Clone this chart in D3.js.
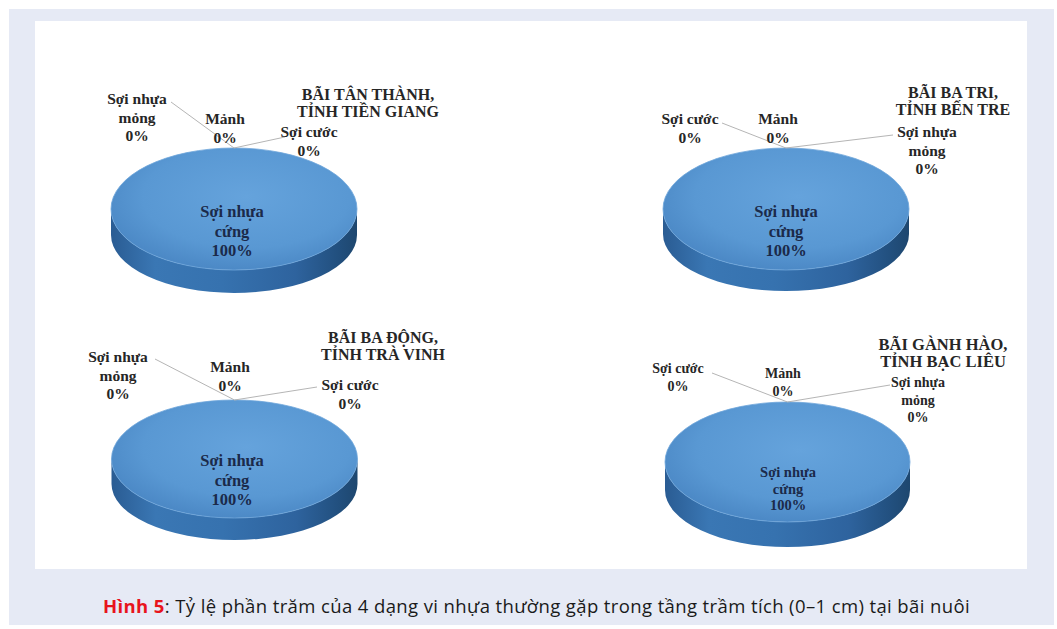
<!DOCTYPE html>
<html lang="vi">
<head>
<meta charset="utf-8">
<script src="https://cdn.jsdelivr.net/npm/d3@7"></script>
<style>
  html, body { margin: 0; padding: 0; background: #ffffff; }
  svg { display: block; }
</style>
</head>
<body>
<svg id="fig" width="1057" height="629"></svg>
<script>
// Plastic type categories (same order in every site)
const categories = ["Sợi nhựa cứng", "Sợi nhựa mỏng", "Mảnh", "Sợi cước"];

// Percentage share of each category, per site
const valuesTanThanh = [100, 0, 0, 0];
const valuesBaTri = [100, 0, 0, 0];
const valuesBaDong = [100, 0, 0, 0];
const valuesGanhHao = [100, 0, 0, 0];

// Site titles (two lines each)
const titleTanThanh = ["BÃI TÂN THÀNH,", "TỈNH TIỀN GIANG"];
const titleBaTri = ["BÃI BA TRI,", "TỈNH BẾN TRE"];
const titleBaDong = ["BÃI BA ĐỘNG,", "TỈNH TRÀ VINH"];
const titleGanhHao = ["BÃI GÀNH HÀO,", "TỈNH BẠC LIÊU"];

// How each category name wraps in the data labels
const labelLines = {
  "Sợi nhựa cứng": ["Sợi nhựa", "cứng"],
  "Sợi nhựa mỏng": ["Sợi nhựa", "mỏng"],
  "Mảnh": ["Mảnh"],
  "Sợi cước": ["Sợi cước"]
};

const captionBold = "Hình 5";
const captionText = ": Tỷ lệ phần trăm của 4 dạng vi nhựa thường gặp trong tầng trầm tích (0–1 cm) tại bãi nuôi";

// Layout for each panel: ellipse geometry, label anchors, font sizes
const panels = [
  {
    values: valuesTanThanh, title: titleTanThanh,
    cx: 234, cy: 209, rx: 123, ry: 61, depth: 26, ryBottom: 58,
    titlePos: [368, 100], titleSize: 16,
    labels: {
      "Sợi nhựa cứng": { x: 232, y: 217, size: 16.5 },
      "Sợi nhựa mỏng": { x: 137, y: 104, size: 15.5, from: [171, 102] },
      "Mảnh": { x: 225, y: 124, size: 15.5 },
      "Sợi cước": { x: 309, y: 137, size: 15.5, from: [285, 137] }
    }
  },
  {
    values: valuesBaTri, title: titleBaTri,
    cx: 786, cy: 209, rx: 123, ry: 61, depth: 25, ryBottom: 57,
    titlePos: [953, 98], titleSize: 16,
    labels: {
      "Sợi nhựa cứng": { x: 786, y: 217, size: 16.5 },
      "Sợi nhựa mỏng": { x: 927, y: 137, size: 15.5, from: [893, 135] },
      "Mảnh": { x: 778, y: 124, size: 15.5 },
      "Sợi cước": { x: 690, y: 124, size: 15.5, from: [722, 123] }
    }
  },
  {
    values: valuesBaDong, title: titleBaDong,
    cx: 234.5, cy: 459, rx: 123, ry: 59, depth: 25, ryBottom: 56,
    titlePos: [383, 343], titleSize: 16,
    labels: {
      "Sợi nhựa cứng": { x: 232, y: 466, size: 16.5 },
      "Sợi nhựa mỏng": { x: 118, y: 362, size: 15.5, from: [155, 359] },
      "Mảnh": { x: 230, y: 372, size: 15.5 },
      "Sợi cước": { x: 350, y: 390, size: 15.5, from: [317, 387] }
    }
  },
  {
    values: valuesGanhHao, title: titleGanhHao,
    cx: 787.5, cy: 462, rx: 122.5, ry: 60, depth: 28, ryBottom: 57,
    titlePos: [943, 350], titleSize: 16.5,
    labels: {
      "Sợi nhựa cứng": { x: 788, y: 477, size: 14.5, lh: 16.5 },
      "Sợi nhựa mỏng": { x: 918, y: 387, size: 14, lh: 17.5, from: [890, 385] },
      "Mảnh": { x: 783, y: 378, size: 14, lh: 17.5 },
      "Sợi cước": { x: 678, y: 373, size: 14, lh: 17.5, from: [712, 373] }
    }
  }
];

const svg = d3.select("#fig");

// Page background and white figure panel
svg.append("rect").attr("x", 0).attr("y", 0).attr("width", 1057).attr("height", 629).attr("fill", "#ffffff");
svg.append("rect").attr("x", 9).attr("y", 9).attr("width", 1045).attr("height", 616).attr("fill", "#e6eaf5");
svg.append("rect").attr("x", 35).attr("y", 21).attr("width", 992).attr("height", 548).attr("fill", "#ffffff");

// Gradients for the 3D pie faces
const defs = svg.append("defs");
const topGrad = defs.append("radialGradient").attr("id", "topFace")
  .attr("cx", "55%").attr("cy", "40%").attr("r", "60%");
topGrad.append("stop").attr("offset", "0%").attr("stop-color", "#65a3dc");
topGrad.append("stop").attr("offset", "70%").attr("stop-color", "#5998d3");
topGrad.append("stop").attr("offset", "100%").attr("stop-color", "#4c89c6");

const sideGrad = defs.append("linearGradient").attr("id", "sideFace")
  .attr("x1", "0%").attr("x2", "100%").attr("y1", "0%").attr("y2", "0%");
[["0%", "#2a5c93"], ["18%", "#3a77b4"], ["45%", "#3672af"], ["75%", "#2e639e"], ["92%", "#22507f"], ["100%", "#1e476f"]]
  .forEach(([o, c]) => sideGrad.append("stop").attr("offset", o).attr("stop-color", c));

const pie = d3.pie().sort(null).value(d => d);

// Point on an ellipse at a d3 pie angle (0 = 12 o'clock, clockwise)
function ellPoint(p, a, cy, ry) {
  return [p.cx + p.rx * Math.sin(a), cy - ry * Math.cos(a)];
}

function topPath(p, arc) {
  const span = arc.endAngle - arc.startAngle;
  if (span >= 2 * Math.PI - 1e-6) {
    return `M${p.cx - p.rx},${p.cy} A${p.rx},${p.ry} 0 1 1 ${p.cx + p.rx},${p.cy} A${p.rx},${p.ry} 0 1 1 ${p.cx - p.rx},${p.cy} Z`;
  }
  const s = ellPoint(p, arc.startAngle, p.cy, p.ry);
  const e = ellPoint(p, arc.endAngle, p.cy, p.ry);
  const large = span > Math.PI ? 1 : 0;
  return `M${p.cx},${p.cy} L${s[0]},${s[1]} A${p.rx},${p.ry} 0 ${large} 1 ${e[0]},${e[1]} Z`;
}

// Visible front wall of a slice: the part between 3 and 9 o'clock
function sidePath(p, arc) {
  const a0 = Math.max(arc.startAngle, Math.PI / 2);
  const a1 = Math.min(arc.endAngle, 3 * Math.PI / 2);
  if (a1 <= a0) return null;
  const cyb = p.cy + p.depth;
  const t0 = ellPoint(p, a0, p.cy, p.ry), t1 = ellPoint(p, a1, p.cy, p.ry);
  const b0 = ellPoint(p, a0, cyb, p.ryBottom), b1 = ellPoint(p, a1, cyb, p.ryBottom);
  const large = (a1 - a0) > Math.PI ? 1 : 0;
  return `M${t0[0]},${t0[1]} A${p.rx},${p.ry} 0 ${large} 1 ${t1[0]},${t1[1]} ` +
         `L${b1[0]},${b1[1]} A${p.rx},${p.ryBottom} 0 ${large} 0 ${b0[0]},${b0[1]} Z`;
}

const serif = "'Liberation Serif', 'Times New Roman', serif";

panels.forEach(p => {
  const g = svg.append("g");
  const arcs = pie(p.values);

  // pie body
  arcs.filter(a => a.value > 0).forEach(a => {
    const sp = sidePath(p, a);
    if (sp) g.append("path").attr("d", sp).attr("fill", "url(#sideFace)");
    g.append("path").attr("d", topPath(p, a))
      .attr("fill", "url(#topFace)")
      .attr("stroke", "#6ea6da").attr("stroke-width", 0.8);
  });

  // leader lines from outside labels to their slice on the rim
  arcs.forEach((a, i) => {
    const cfg = p.labels[categories[i]];
    if (!cfg.from) return;
    const mid = (a.startAngle + a.endAngle) / 2;
    const pt = ellPoint(p, mid, p.cy, p.ry);
    g.append("line")
      .attr("x1", cfg.from[0]).attr("y1", cfg.from[1])
      .attr("x2", pt[0]).attr("y2", pt[1])
      .attr("stroke", "#b5b5b5").attr("stroke-width", 1);
  });

  // data labels
  arcs.forEach((a, i) => {
    const cat = categories[i];
    const cfg = p.labels[cat];
    const inside = a.value > 0;
    const lines = labelLines[cat].concat([a.value + "%"]);
    const lh = cfg.lh || (inside ? 19.5 : 18.5);
    const t = g.append("text")
      .attr("x", cfg.x).attr("y", cfg.y)
      .attr("text-anchor", "middle")
      .attr("font-family", serif)
      .attr("font-weight", "bold")
      .attr("font-size", cfg.size)
      .attr("fill", inside ? "#1b2a4a" : "#262626");
    lines.forEach((ln, k) => {
      t.append("tspan").attr("x", cfg.x).attr("dy", k === 0 ? 0 : lh).text(ln);
    });
  });

  // site title
  const tt = g.append("text")
    .attr("x", p.titlePos[0]).attr("y", p.titlePos[1])
    .attr("text-anchor", "middle")
    .attr("font-family", serif)
    .attr("font-weight", "bold")
    .attr("font-size", p.titleSize)
    .attr("fill", "#262626");
  p.title.forEach((ln, k) => {
    tt.append("tspan").attr("x", p.titlePos[0]).attr("dy", k === 0 ? 0 : 17).text(ln);
  });
});

// Figure caption, fitted to span the text column
const cap = svg.append("text")
  .attr("x", 103).attr("y", 613)
  .attr("font-family", "'Open Sans', 'Noto Sans', sans-serif")
  .attr("font-size", 18.5)
  .attr("fill", "#1a1a1a");
cap.append("tspan").attr("font-weight", "bold").attr("fill", "#e8141c").text(captionBold);
cap.append("tspan").text(captionText);
const capLen = cap.node().getComputedTextLength();
if (capLen > 867) {
  cap.attr("font-size", 18.5 * 867 / capLen);
} else {
  const nChars = (captionBold + captionText).length;
  cap.attr("letter-spacing", (867 - capLen) / nChars);
}
</script>
</body>
</html>
